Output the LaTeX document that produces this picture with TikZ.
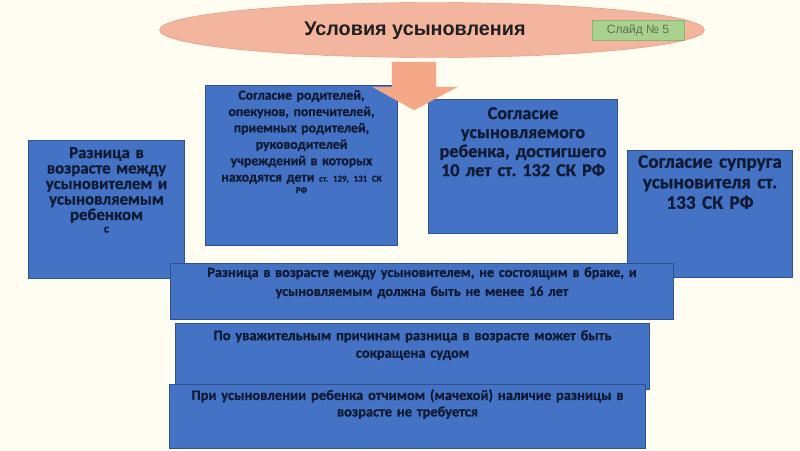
\documentclass[tikz,border=0pt]{standalone}
\usepackage{fontspec}
\setmainfont{Carlito}[BoldFeatures={FakeBold=0.8}]
\newfontfamily\arialish{Liberation Sans}
\usetikzlibrary{positioning,shapes.geometric}
\frenchspacing

\definecolor{boxblue}{HTML}{4472C4}
\definecolor{boxline}{HTML}{2F528F}
\definecolor{boxtext}{HTML}{111A33}
\definecolor{salmon}{HTML}{F4B59E}
\definecolor{salmonline}{HTML}{DC9279}
\definecolor{arrowfill}{HTML}{F5A888}
\definecolor{slidegreen}{HTML}{A9D18E}
\definecolor{slideline}{HTML}{8CB573}
\definecolor{slidetext}{HTML}{5E6E50}
\definecolor{bgyel}{HTML}{FCDF88}
\definecolor{bgcream}{HTML}{FFFCF2}

\pgfdeclarehorizontalshading{bgshade}{800bp}{color(0bp)=(bgyel!80);
  color(80bp)=(bgyel); color(240bp)=(bgcream); color(550bp)=(bgcream);
  color(700bp)=(bgyel); color(800bp)=(bgyel)}

\begin{document}
\begin{tikzpicture}[x=1pt, y=-1pt,
    box/.style={draw=boxline, line width=1pt, fill=boxblue, anchor=north west, inner sep=0pt},
    txt/.style={text=boxtext, font=\bfseries, align=center, inner sep=0pt}]
  \useasboundingbox (0,0) rectangle (800,450);
  \shade[shading=bgshade] (0,0) rectangle (800,450);

  % heading
  \node[ellipse, draw=salmonline, fill=salmon, minimum width=545, minimum height=55] (cond) at (432,30) {};
  \node[font=\arialish\bfseries\fontsize{19.8}{22}\selectfont, text=black!88] (condt) at (415,31) {Условия усыновления};
  \node[draw=slideline, fill=slidegreen, text=slidetext, font=\arialish\fontsize{12}{12}\selectfont,
    minimum width=92, minimum height=20, inner sep=0pt] (slide) at (638,30) {Слайд № 5};

  % upper boxes
  \node[box, minimum width=156, minimum height=138] (razn) at (28,140) {};
  \node[txt, text width=152, font=\bfseries\fontsize{16.8}{15.5}\selectfont, below=7pt of razn.north] (raznt)
    {Разница в\\возрасте между\\усыновителем и\\усыновляемым\\ребенком\\[-3pt]{\fontsize{12}{10}\selectfont с}};
  \node[box, minimum width=192, minimum height=160] (rod) at (205,85) {};
  \node[txt, text width=190, font=\bfseries\fontsize{13.8}{16.4}\selectfont, below=5pt of rod.north] (rodt)
    {Согласие родителей,\\опекунов, попечителей,\\приемных родителей,\\руководителей\\учреждений в которых\\находятся дети {\fontsize{9}{10}\selectfont ст. 129, 131 СК}\\[-5pt]{\fontsize{9}{10}\selectfont РФ}};
  \node[box, minimum width=189, minimum height=134] (reb) at (428,99) {};
  \node[txt, text width=187, font=\bfseries\fontsize{18.2}{19}\selectfont, below=8pt of reb.north] (rebt)
    {Согласие\\усыновляемого\\ребенка, достигшего\\10 лет ст. 132 СК РФ};
  \node[box, minimum width=165, minimum height=127] (sup) at (627,150) {};
  \node[txt, text width=163, font=\bfseries\fontsize{19.2}{20.5}\selectfont, below=5pt of sup.north] (supt)
    {Согласие супруга\\усыновителя ст.\\133 СК РФ};

  % arrow from the heading
  \filldraw[fill=arrowfill, draw=arrowfill] (392,62) -- (436,62) -- (436,87) -- (457,87)
    -- (414,110) -- (373,87) -- (392,87) -- cycle;

  % lower boxes
  \node[box, minimum width=503, minimum height=56] (vozr) at (170,263) {};
  \node[txt, text width=495, font=\bfseries\fontsize{14.2}{19}\selectfont, below=4pt of vozr.north] (vozrt)
    {Разница в возрасте между усыновителем, не состоящим в браке, и\\усыновляемым должна быть не менее 16 лет};
  \node[box, minimum width=474, minimum height=66] (sud) at (175,323) {};
  \node[txt, text width=468, font=\bfseries\fontsize{14.5}{17.5}\selectfont, below=7pt of sud.north] (sudt)
    {По уважительным причинам разница в возрасте может быть\\сокращена судом};
  \node[box, minimum width=476, minimum height=64] (otch) at (169,384) {};
  \node[txt, text width=470, font=\bfseries\fontsize{14.5}{16.5}\selectfont, below=5pt of otch.north] (otcht)
    {При усыновлении ребенка отчимом (мачехой) наличие разницы в\\возрасте не требуется};
\end{tikzpicture}
\end{document}
